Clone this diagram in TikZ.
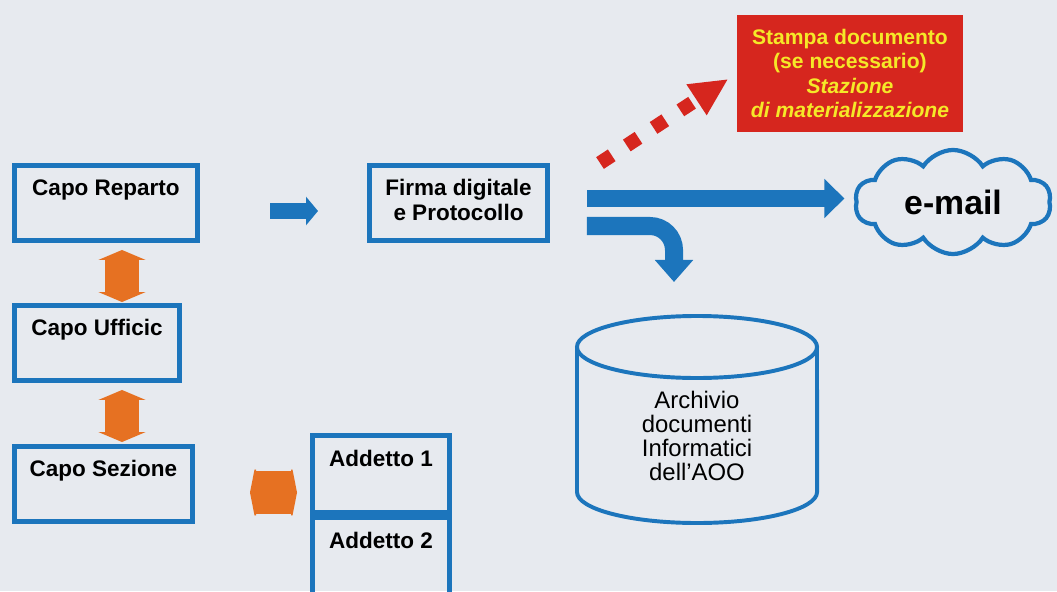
\documentclass[tikz,border=0pt]{standalone}
\usepackage{fontspec}
\setmainfont{Liberation Sans}
\usetikzlibrary{arrows.meta,shapes.symbols}
\definecolor{sfondo}{RGB}{231,234,239}
\definecolor{blu}{RGB}{28,117,188}
\definecolor{arancio}{RGB}{230,113,34}
\definecolor{rosso}{RGB}{214,38,30}
\definecolor{giallo}{RGB}{245,232,40}
\begin{document}
\begin{tikzpicture}[x=0.025cm,y=-0.025cm,
	capo/.style={draw=blu, line width=3.5pt, minimum height=1.875cm, align=center, font=\bfseries\fontsize{16}{17.7}\selectfont},
	freccia/.style={draw=blu, line width=0.425cm, -{Triangle[width=0.95cm,length=0.5cm]}},
	doppia/.style={draw=arancio, line width=0.825cm, {Triangle[width=1.175cm,length=0.25cm]}-{Triangle[width=1.175cm,length=0.25cm]}}]
	\useasboundingbox (0,0) rectangle (1057,591);
	\fill[sfondo] (0,0) rectangle (1057,591);
	\clip (0,0) rectangle (1057,591);

	\node [capo, minimum width=4.575cm] (reparto) at (106,203) {\strut Capo Reparto\\\strut};
	\node [capo, minimum width=4.125cm] (ufficio) at (97,343) {\strut Capo Ufficic\\\strut};
	\node [capo, minimum width=4.45cm] (sezione) at (103.5,484) {\strut Capo Sezione\\\strut};
	\node [capo, minimum width=4.45cm] (firma) at (458.5,203) {\strut Firma digitale\\\strut e Protocollo};
	\node [capo, minimum width=3.425cm, minimum height=1.925cm] (addetto1) at (381,474) {\strut Addetto 1\\\strut};
	\node [capo, minimum width=3.425cm, minimum height=1.925cm] (addetto2) at (381,556) {\strut Addetto 2\\\strut};

	\node [fill=rosso, text=giallo, minimum width=5.65cm, minimum height=2.925cm, align=center,
		font=\bfseries\fontsize{15}{17.5}\selectfont] (stampa) at (850,73.5)
		{Stampa documento\\(se necessario)\\\textit{Stazione}\\\textit{di materializzazione}};
	\node [cloud, draw=blu, line width=3pt, cloud puffs=10, cloud puff arc=115, aspect=2,
		minimum width=4.9cm, minimum height=2.6cm, font=\bfseries\fontsize{24}{28}\selectfont] (email) at (953,202) {e-mail};

	% archivio
	\draw [blu, line width=2.8pt] (577,347) -- (577,492) arc [start angle=180, end angle=360, x radius=3cm, y radius=0.775cm] -- (817,347);
	\draw [blu, line width=2.8pt] (697,347) ellipse [x radius=3cm, y radius=0.775cm];
	\node [align=center, font=\fontsize{17}{17}\selectfont] (archivio) at (697,436) {Archivio\\documenti\\Informatici\\dell’AOO};

	% frecce
	\draw [doppia, shorten <=0.175cm, shorten >=0.025cm] (122,0 |- reparto.south) -- (122,0 |- ufficio.north);
	\draw [doppia, shorten <=0.175cm, shorten >=0.05cm] (122,0 |- ufficio.south) -- (122,0 |- sezione.north);
	\draw [draw=arancio, line width=1.075cm, {Triangle[width=1.525cm,length=0.15cm]}-{Triangle[width=1.525cm,length=0.15cm]},
		shorten <=1.375cm, shorten >=0.325cm] (sezione.east |- 0,492.5) -- (addetto1.west |- 0,492.5);
	\draw [draw=blu, line width=0.4cm, -{Triangle[width=0.7cm,length=0.3cm]}, shorten <=1.75cm, shorten >=1.225cm]
		(reparto.east |- 0,211) -- (firma.west |- 0,211);
	\draw [freccia, shorten <=0.925cm, shorten >=0.25cm] (firma.east |- 0,198.5) -- (email.west |- 0,198.5);
	\coordinate (giu) at (674,282);
	\draw [freccia, line width=0.45cm, -{Triangle[width=0.925cm,length=0.55cm]}, rounded corners=0.6cm]
		(firma.east |- 0,226) ++(37,0) -| (giu);
	\coordinate (stampafrom) at (600,163);
	\draw [draw=rosso, line width=0.35cm, dash pattern=on 0.35cm off 0.45cm, -{Triangle[width=0.85cm,length=0.95cm]},
		shorten >=0.25cm] (stampafrom) -- (stampa.west);
\end{tikzpicture}
\end{document}
